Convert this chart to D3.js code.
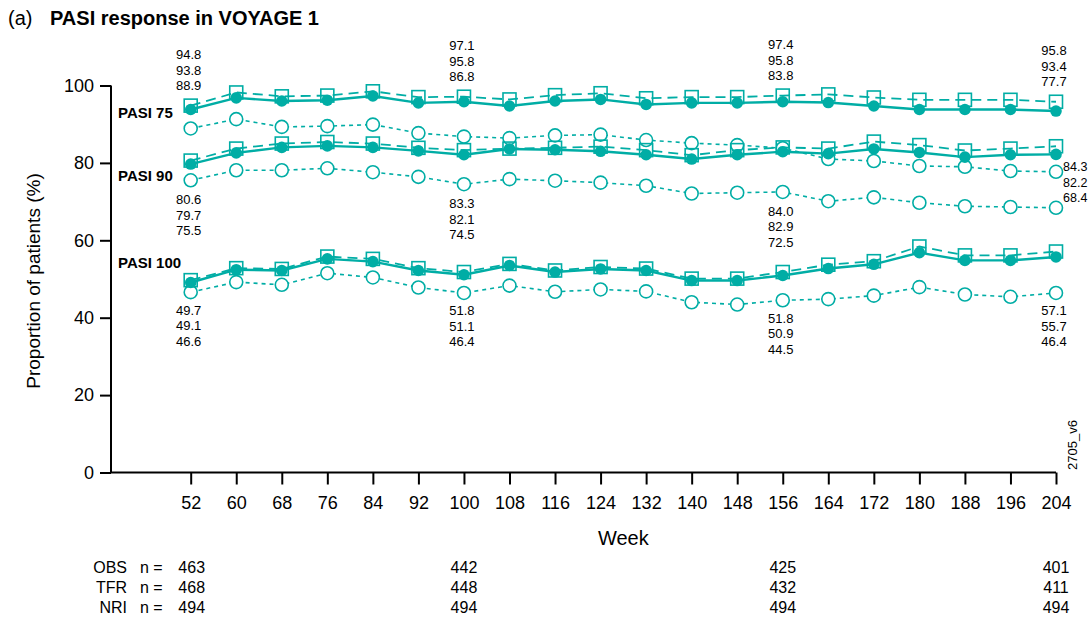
<!DOCTYPE html>
<html>
<head>
<meta charset="utf-8">
<script src="https://cdn.jsdelivr.net/npm/d3@7"></script>
<style>
  html, body { margin: 0; padding: 0; background: #fff; }
  svg { display: block; font-family: "Liberation Sans", Arial, Helvetica, sans-serif; }
</style>
</head>
<body>
<svg id="chart" width="1088" height="625"></svg>
<script>
// Week of visit
const weeks = [52, 60, 68, 76, 84, 92, 100, 108, 116, 124, 132, 140, 148, 156, 164, 172, 180, 188, 196, 204];

// PASI 75 response (%)
const pasi75_obs = [94.8, 98.2, 97.2, 97.4, 98.5, 97.0, 97.1, 96.4, 97.5, 98.0, 96.7, 97.0, 97.0, 97.4, 97.7, 96.9, 96.3, 96.3, 96.3, 95.8];
const pasi75_tfr = [93.8, 96.8, 96.0, 96.2, 97.3, 95.5, 95.8, 94.7, 96.0, 96.4, 95.1, 95.5, 95.5, 95.8, 95.6, 94.7, 93.8, 93.8, 93.8, 93.4];
const pasi75_nri = [88.9, 91.3, 89.3, 89.5, 89.9, 87.7, 86.8, 86.4, 87.1, 87.3, 85.9, 85.1, 84.6, 83.8, 81.0, 80.5, 79.2, 79.0, 77.9, 77.7];

// PASI 90 response (%)
const pasi90_obs = [80.6, 83.7, 85.0, 85.4, 85.0, 83.9, 83.3, 83.7, 83.9, 84.2, 83.3, 82.0, 83.3, 84.0, 83.7, 85.5, 84.6, 83.2, 83.7, 84.3];
const pasi90_tfr = [79.7, 82.6, 84.0, 84.4, 84.0, 83.1, 82.1, 83.6, 83.4, 83.0, 82.1, 81.0, 82.1, 82.9, 82.4, 83.6, 82.7, 81.5, 82.1, 82.2];
const pasi90_nri = [75.5, 78.1, 78.1, 78.6, 77.6, 76.4, 74.5, 75.8, 75.4, 74.9, 74.1, 72.1, 72.3, 72.5, 70.1, 71.1, 69.7, 68.8, 68.6, 68.4];

// PASI 100 response (%)
const pasi100_obs = [49.7, 52.8, 52.6, 55.8, 55.2, 52.8, 51.8, 53.9, 52.2, 53.1, 52.7, 50.1, 50.1, 51.8, 53.7, 54.6, 58.4, 56.1, 56.1, 57.1];
const pasi100_tfr = [49.1, 52.4, 52.2, 55.2, 54.5, 52.2, 51.1, 53.5, 51.8, 52.6, 52.2, 49.6, 49.6, 50.9, 52.7, 53.8, 56.8, 54.8, 54.8, 55.7];
const pasi100_nri = [46.6, 49.2, 48.5, 51.5, 50.4, 47.8, 46.4, 48.3, 46.7, 47.3, 46.8, 44.0, 43.4, 44.5, 44.8, 45.7, 47.9, 46.0, 45.4, 46.4];

// Y-axis ticks
const yTicks = [0, 20, 40, 60, 80, 100];

// Patients at risk
const nWeeks = [52, 100, 156, 204];
const nMethods = ["OBS", "TFR", "NRI"];
const nOBS = [463, 442, 425, 401];
const nTFR = [468, 448, 432, 411];
const nNRI = [494, 494, 494, 494];

// Weeks annotated with values
const labelWeeks = [52, 100, 156, 204];

const teal = "#00ada5";
const svg = d3.select("#chart");

const x = d3.scaleLinear().domain([38, 204]).range([111, 1056]);
const y = d3.scaleLinear().domain([0, 100]).range([472.5, 85.5]);

// Title
svg.append("text").attr("x", 8).attr("y", 25).attr("font-size", 20).text("(a)");
svg.append("text").attr("x", 50).attr("y", 25).attr("font-size", 20).attr("font-weight", "bold")
  .text("PASI response in VOYAGE 1");

// Axes
const yAxis = svg.append("g").attr("transform", `translate(${x(38)},0)`)
  .call(d3.axisLeft(y).tickValues(yTicks).tickSize(11).tickPadding(6));
const xAxis = svg.append("g").attr("transform", `translate(0,${y(0)})`)
  .call(d3.axisBottom(x).tickValues(weeks).tickSize(12).tickPadding(12));
[yAxis, xAxis].forEach(g => {
  g.select(".domain").attr("stroke", "#000").attr("stroke-width", 2);
  g.selectAll(".tick line").attr("stroke", "#000").attr("stroke-width", 2);
  g.selectAll(".tick text").attr("fill", "#000").attr("font-size", 18)
    .attr("font-family", "'Liberation Sans', Arial, sans-serif");
});
// trim the axis end caps so the lines meet at the corner
yAxis.select(".domain").attr("d", `M0,${y(100)}V${y(0)}`);
xAxis.select(".domain").attr("d", `M${x(38)},0H${x(204)}`);

// Axis titles
svg.append("text").attr("transform", `translate(40,${y(50) + 2}) rotate(-90)`)
  .attr("text-anchor", "middle").attr("font-size", 19).text("Proportion of patients (%)");
svg.append("text").attr("x", x(128)).attr("y", 545).attr("text-anchor", "middle")
  .attr("font-size", 20).text("Week");

// Series
const groups = [
  { name: "PASI 75", obs: pasi75_obs, tfr: pasi75_tfr, nri: pasi75_nri },
  { name: "PASI 90", obs: pasi90_obs, tfr: pasi90_tfr, nri: pasi90_nri },
  { name: "PASI 100", obs: pasi100_obs, tfr: pasi100_tfr, nri: pasi100_nri }
];

const line = d3.line().x(d => x(d[0])).y(d => y(d[1]));
const pts = vals => weeks.map((w, i) => [w, vals[i]]);
const plot = svg.append("g");

groups.forEach(g => {
  // NRI: short dashes with open circles
  plot.append("path").datum(pts(g.nri)).attr("d", line).attr("fill", "none")
    .attr("stroke", teal).attr("stroke-width", 1.6).attr("stroke-dasharray", "4,4");
  plot.selectAll(null).data(pts(g.nri)).join("circle")
    .attr("cx", d => x(d[0])).attr("cy", d => y(d[1])).attr("r", 6.5)
    .attr("fill", "#fff").attr("stroke", teal).attr("stroke-width", 1.6);
});
groups.forEach(g => {
  // OBS: long dashes with open squares
  plot.append("path").datum(pts(g.obs)).attr("d", line).attr("fill", "none")
    .attr("stroke", teal).attr("stroke-width", 1.8).attr("stroke-dasharray", "10,6");
  plot.selectAll(null).data(pts(g.obs)).join("rect")
    .attr("x", d => x(d[0]) - 6.5).attr("y", d => y(d[1]) - 6.5)
    .attr("width", 13).attr("height", 13)
    .attr("fill", "none").attr("stroke", teal).attr("stroke-width", 1.6);
});
groups.forEach(g => {
  // TFR: solid line with filled circles
  plot.append("path").datum(pts(g.tfr)).attr("d", line).attr("fill", "none")
    .attr("stroke", teal).attr("stroke-width", 2.4);
  plot.selectAll(null).data(pts(g.tfr)).join("circle")
    .attr("cx", d => x(d[0])).attr("cy", d => y(d[1])).attr("r", 5.8)
    .attr("fill", teal);
});

// Group names
const nameY = { "PASI 75": 118, "PASI 90": 181, "PASI 100": 268 };
groups.forEach(g => {
  svg.append("text").attr("x", 118).attr("y", nameY[g.name])
    .attr("font-size", 15).attr("font-weight", "bold").text(g.name);
});

// Value annotations: OBS / TFR / NRI stacked
const fmt = d3.format(".1f");
const lineGap = 15.5;
function placement(gi, w) {
  const i = weeks.indexOf(w);
  const g = groups[gi];
  if (gi === 0) return { x: x(w) - 2, y: y(g.obs[i]) - 20 - 2 * lineGap, anchor: "middle", size: 13 };
  if (gi === 1) {
    if (w === 204) return { x: x(w) + 7, y: y(g.tfr[i]) + 12.5, anchor: "start", size: 12.5 };
    return { x: x(w) - 2, y: y(g.nri[i]) + 19.5, anchor: "middle", size: 13 };
  }
  return { x: x(w) - 2, y: y(g.nri[i]) + 18, anchor: "middle", size: 13 };
}
groups.forEach((g, gi) => {
  labelWeeks.forEach(w => {
    const i = weeks.indexOf(w);
    const p = placement(gi, w);
    [g.obs[i], g.tfr[i], g.nri[i]].forEach((v, k) => {
      svg.append("text").attr("x", p.x).attr("y", p.y + k * lineGap)
        .attr("dy", "0.35em").attr("text-anchor", p.anchor)
        .attr("font-size", p.size).text(fmt(v));
    });
  });
});

// Patients at risk table
const nRows = [nOBS, nTFR, nNRI];
nMethods.forEach((m, r) => {
  const yy = 573 + r * 20;
  svg.append("text").attr("x", 127).attr("y", yy).attr("text-anchor", "end")
    .attr("font-size", 16).text(m);
  nWeeks.forEach((w, c) => {
    if (c === 0) {
      svg.append("text").attr("x", 140).attr("y", yy).attr("font-size", 16).text("n =");
      svg.append("text").attr("x", x(w) + 1).attr("y", yy).attr("text-anchor", "middle")
        .attr("font-size", 16).text(nRows[r][c]);
    } else {
      svg.append("text").attr("x", x(w)).attr("y", yy).attr("text-anchor", "middle")
        .attr("font-size", 16).text(nRows[r][c]);
    }
  });
});

// Figure code
svg.append("text").attr("transform", "translate(1077,470) rotate(-90)")
  .attr("font-size", 13).text("2705_v6");
</script>
</body>
</html>
